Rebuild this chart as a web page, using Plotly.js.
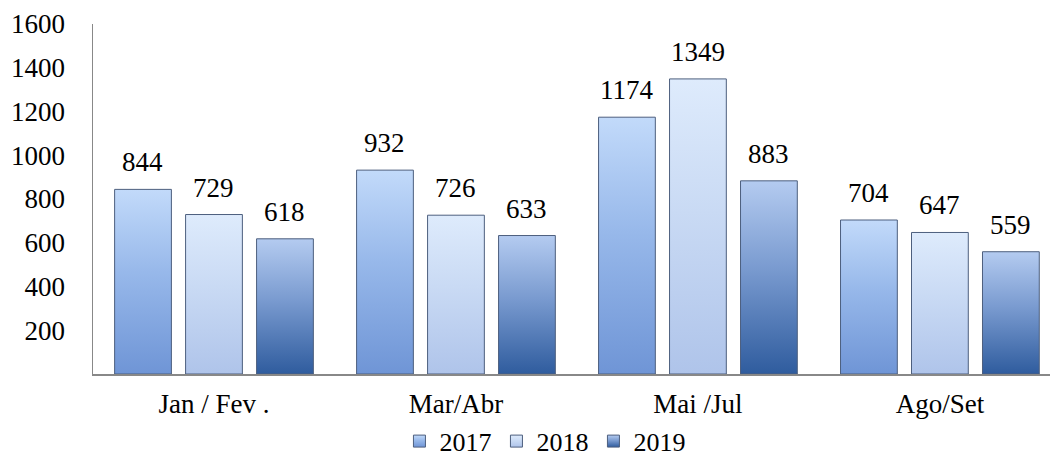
<!DOCTYPE html>
<html>
<head>
<meta charset="utf-8">
<script src="https://cdn.plot.ly/plotly-3.0.1.min.js"></script>
<style>html,body{margin:0;padding:0;background:#fff;}#chart{width:1050px;height:459px;}</style>
</head>
<body>
<div id="chart"></div>
<script>
const categories = ["Jan / Fev .", "Mar/Abr", "Mai /Jul", "Ago/Set"];
const years = ["2017", "2018", "2019"];
const values2017 = [844, 932, 1174, 704];
const values2018 = [729, 726, 1349, 647];
const values2019 = [618, 633, 883, 559];
const tickVals = [200, 400, 600, 800, 1000, 1200, 1400, 1600];

const baseColors = ["#9dbcec", "#c8d9f3", "#6f93cf"];
const grads = [
  ["#c2dafa", "#97b8ea", "#6f95d6"],
  ["#deebfc", "#c9daf4", "#afc4ea"],
  ["#b4cbf0", "#7a9bd0", "#2f5c9e"]
];
const FONT = "Liberation Serif, Cambria, serif";

const series = [values2017, values2018, values2019];
const traces = series.map((vals, i) => ({
  type: "bar",
  name: years[i],
  x: categories,
  y: vals,
  marker: {color: baseColors[i], line: {color: "#4d5f7e", width: 1}},
  hoverinfo: "x+y+name"
}));

// value labels above each bar, positioned by the axes' own scales
const annotations = [];
series.forEach((vals, i) => {
  vals.forEach((v, j) => {
    annotations.push({
      xref: "x", yref: "y", x: categories[j], y: v,
      text: String(v), showarrow: false,
      xshift: (i - 1) * 71, yshift: 27, yanchor: "middle",
      font: {family: FONT, size: 27, color: "#000"}
    });
  });
});

const layout = {
  width: 1050, height: 459,
  margin: {l: 93, r: 0, t: 24, b: 85, autoexpand: false},
  paper_bgcolor: "#fff", plot_bgcolor: "#fff",
  font: {family: FONT, size: 27, color: "#000"},
  barmode: "group",
  bargap: 0.12,
  bargroupgap: 0.2,
  showlegend: true,
  annotations: annotations,
  legend: {orientation: "h", xref: "container", x: 0.519, xanchor: "center",
           y: -0.192, yanchor: "middle",
           font: {family: FONT, size: 26, color: "#000"}, itemwidth: 30, tracegroupgap: 0,
           itemclick: false},
  xaxis: {
    range: [-0.5, 3.455],
    showline: true, linecolor: "#888", linewidth: 1.5,
    ticks: "", showgrid: false, zeroline: false,
    tickfont: {family: FONT, size: 27},
    ticklabelstandoff: 5
  },
  yaxis: {
    range: [0, 1600],
    tickvals: tickVals,
    ticktext: tickVals.map(String),
    showline: true, linecolor: "#888", linewidth: 1.5,
    ticks: "", showgrid: false, zeroline: false,
    tickfont: {family: FONT, size: 27},
    ticklabelstandoff: 21
  }
};

function applyGradients() {
  const gd = document.getElementById("chart");
  const svg = gd.querySelector("svg.main-svg");
  if (!svg) return;
  const ns = "http://www.w3.org/2000/svg";
  let defs = svg.querySelector("defs");
  if (!defs) { defs = document.createElementNS(ns, "defs"); svg.insertBefore(defs, svg.firstChild); }
  grads.forEach((g, i) => {
    const id = "barGrad" + i;
    if (svg.querySelector("#" + id)) return;
    const lg = document.createElementNS(ns, "linearGradient");
    lg.setAttribute("id", id);
    lg.setAttribute("x1", "0"); lg.setAttribute("y1", "0");
    lg.setAttribute("x2", "0"); lg.setAttribute("y2", "1");
    [[0, g[0]], [0.45, g[1]], [1, g[2]]].forEach(([o, c]) => {
      const s = document.createElementNS(ns, "stop");
      s.setAttribute("offset", o); s.setAttribute("stop-color", c);
      lg.appendChild(s);
    });
    defs.appendChild(lg);
  });
  gd.querySelectorAll("g.trace.bars").forEach((t, i) => {
    t.querySelectorAll("g.point path").forEach(p => { p.style.fill = "url(#barGrad" + i + ")"; });
  });
  gd.querySelectorAll("g.legend g.traces").forEach((t, i) => {
    t.querySelectorAll("g.legendpoints path").forEach(p => { p.style.fill = "url(#barGrad" + i + ")"; });
  });
}

Plotly.newPlot("chart", traces, layout, {displayModeBar: false, staticPlot: true}).then(applyGradients);
</script>
</body>
</html>
